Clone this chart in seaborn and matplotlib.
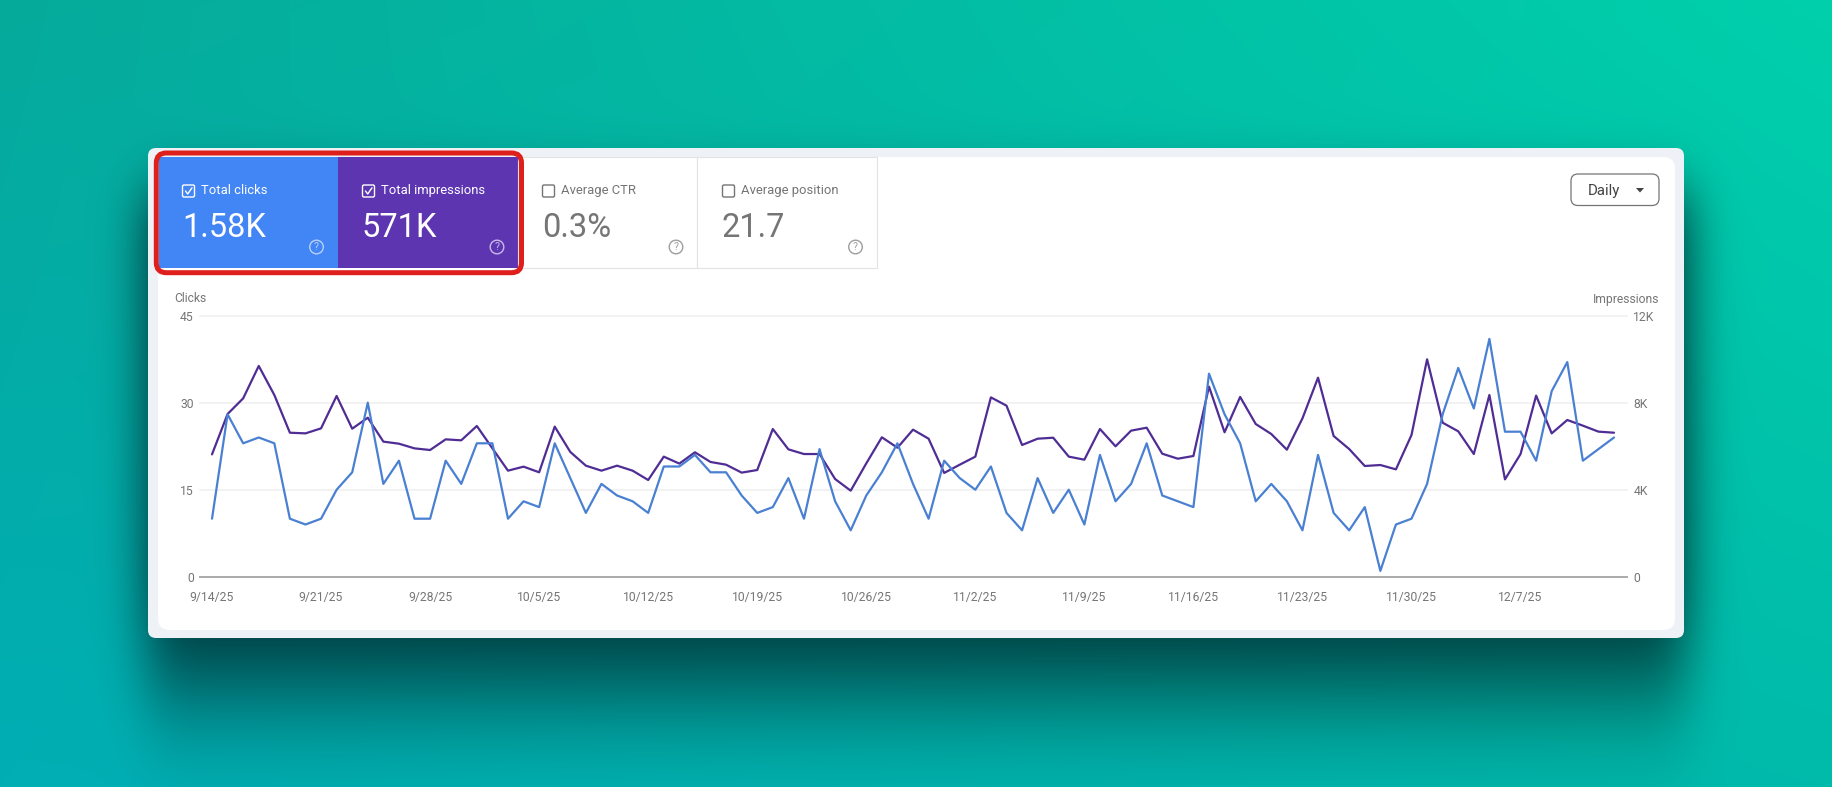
import math
import numpy as np
import pandas as pd
import seaborn as sns
import matplotlib.pyplot as plt
from matplotlib.patches import FancyBboxPatch, Rectangle, Circle, Polygon

W, H = 1833, 787

# values
clicks = [10, 28, 23, 24, 23, 10, 9, 10, 15, 18, 30, 16, 20, 10, 10, 20, 16, 23, 23, 10,
          13, 12, 23, 17, 11, 16, 14, 13, 11, 19, 19, 21, 18, 18, 14, 11, 12, 17, 10, 22,
          13, 8, 14, 18, 23, 16, 10, 20, 17, 15, 19, 11, 8, 17, 11, 15, 9, 21, 13, 16,
          23, 14, 13, 12, 35, 28, 23, 13, 16, 13, 8, 21, 11, 8, 12, 1, 9, 10, 16, 28,
          36, 29, 41, 25, 25, 20, 32, 37, 20, 22, 24]
impressions = [5625, 7480, 8200, 9690, 8355, 6620, 6590, 6820, 8310, 6805, 7310, 6210, 6115,
               5900, 5825, 6315, 6270, 6930, 5900, 4875, 5060, 4800, 6900, 5735, 5105, 4875,
               5105, 4875, 4445, 5520, 5200, 5720, 5275, 5150, 4785, 4905, 6790, 5855, 5640,
               5640, 4490, 3955, 5210, 6410, 5930, 6760, 6345, 4770, 5150, 5520, 8245, 7865,
               6055, 6345, 6390, 5520, 5380, 6790, 5995, 6715, 6850, 5655, 5425, 5550, 8740,
               6640, 8265, 7020, 6560, 5840, 7280, 9150, 6470, 5870, 5090, 5135, 4935, 6515,
               9995, 7080, 6685, 5640, 8355, 4475, 5640, 8325, 6590, 7205, 6945, 6670, 6620]
days = pd.date_range("2025-09-14", periods=len(clicks), freq="D")

date_ticks = pd.date_range("2025-09-14", "2025-12-07", freq="7D")
date_labels = ["9/14/25", "9/21/25", "9/28/25", "10/5/25", "10/12/25", "10/19/25", "10/26/25",
               "11/2/25", "11/9/25", "11/16/25", "11/23/25", "11/30/25", "12/7/25"]
click_ticks = [0, 15, 30, 45]
impr_ticks = [0, 4000, 8000, 12000]
impr_labels = ["0", "4K", "8K", "12K"]

tile_names = ["Total clicks", "Total impressions", "Average CTR", "Average position"]
tile_values = ["1.58K", "571K", "0.3%", "21.7"]

df = pd.DataFrame({"day": days, "clicks": clicks, "impressions": impressions})

sns.set_theme(style="white")
plt.rcParams["font.family"] = ["Roboto", "DejaVu Sans"]

fig = plt.figure(figsize=(W / 100, H / 100), dpi=100)

# page background, everything on it is in pixels
bg = fig.add_axes([0, 0, 1, 1])
xx, yy = np.meshgrid(np.linspace(0, 1, W), np.linspace(0, 1, H))
corners = np.array([[6, 170, 155], [0, 208, 172], [0, 174, 180], [0, 186, 170]], dtype=float)
grad = np.zeros((H, W, 3))
for c in range(3):
    grad[..., c] = (corners[0, c] * (1 - xx) * (1 - yy) + corners[1, c] * xx * (1 - yy)
                    + corners[2, c] * (1 - xx) * yy + corners[3, c] * xx * yy)

# card shadow
erf = np.vectorize(math.erf)
px = np.arange(W)
py = np.arange(H)
sx = 0.5 * (erf((px - 146) / (24 * 1.414)) - erf((px - 1687) / (24 * 1.414)))
sy = 0.5 * (erf((py - 190) / (30 * 1.414)) - erf((py - 682) / (62 * 1.414)))
shade = 0.9 * np.outer(sy, sx)[..., None]
grad = grad * (1 - shade) + np.array([0, 30, 35]) * shade

bg.imshow(grad / 255, extent=[0, W, H, 0], aspect="auto", interpolation="bilinear")
bg.set_xlim(0, W)
bg.set_ylim(H, 0)
bg.axis("off")

bg.add_patch(FancyBboxPatch((148, 148), 1536, 490, boxstyle="round,pad=0,rounding_size=8",
                            fc="#EEF2F7", ec="none"))
bg.add_patch(FancyBboxPatch((158, 157), 1517, 473, boxstyle="round,pad=0,rounding_size=12",
                            fc="white", ec="none"))

# metric tiles
tile_edges = [159, 338, 518.5, 697.5, 877]
tile_fill = ["#4285F4", "#5E35B1", "white", "white"]
label_x = [201, 381, 561, 741]
box_x = [182.5, 362.5, 542.5, 722.5]
for i in range(4):
    x0, x1 = tile_edges[i], tile_edges[i + 1]
    on = i < 2
    fg = "white" if on else "#757575"
    bg.add_patch(Rectangle((x0, 157), x1 - x0, 110.5, fc=tile_fill[i],
                           ec="#E3E3E3" if not on else "none", lw=0.8))
    bg.add_patch(FancyBboxPatch((box_x[i], 185), 12, 12, boxstyle="round,pad=0,rounding_size=1.5",
                                fc="none", ec=fg, lw=1.0))
    if on:
        bg.plot([box_x[i] + 3, box_x[i] + 5.2, box_x[i] + 9.5], [191, 194, 187.8], color="white", lw=1.0)
    bg.text(label_x[i], 190.5, tile_names[i], color=fg, fontsize=9.35, va="center", ha="left")
    bg.text(box_x[i] - 0.5, 228, tile_values[i], color=fg, fontsize=23.5, va="center", ha="left")
    hx = tile_edges[i + 1] - 21.5
    hc = "#B9D0FA" if i == 0 else ("#C9BAE8" if i == 1 else "#9E9E9E")
    bg.add_patch(Circle((hx, 247), 6.8, fc="none", ec=hc, lw=1.0))
    bg.text(hx, 247, "?", color=hc, fontsize=7.5, va="center", ha="center")

# red highlight round the first two tiles
bg.add_patch(FancyBboxPatch((156.3, 153), 365.2, 119.7, boxstyle="round,pad=0,rounding_size=10",
                            fc="none", ec="#DF1F1B", lw=3.6))

# Daily dropdown
bg.add_patch(FancyBboxPatch((1571, 174), 88, 31.5, boxstyle="round,pad=0,rounding_size=7",
                            fc="white", ec="#757575", lw=0.9))
bg.text(1587.5, 190.5, "Daily", color="#444444", fontsize=10.8, va="center", ha="left")
bg.add_patch(Polygon([[1636, 188], [1644, 188], [1640, 192.5]], fc="#444444", ec="none"))

bg.text(174, 299, "Clicks", color="#757575", fontsize=8.7, va="center", ha="left")
bg.text(1659.5, 299, "Impressions", color="#757575", fontsize=8.7, va="center", ha="right")

# the chart itself
ax = fig.add_axes([200 / W, 1 - 576.7 / H, 1427 / W, 261 / H])
ax2 = ax.twinx()

sns.lineplot(data=df, x="day", y="impressions", ax=ax2, color="#4F2D94", linewidth=1.6)
sns.lineplot(data=df, x="day", y="clicks", ax=ax, color="#4A80D2", linewidth=1.6)

ax.set_zorder(ax2.get_zorder() + 1)
ax.patch.set_visible(False)
ax2.patch.set_visible(False)

ax.set_xlim(days[0] - pd.Timedelta(hours=18.5), days[-1] + pd.Timedelta(hours=20))
ax.set_ylim(0, 45)
ax2.set_ylim(0, 12000)
ax.set_xticks(date_ticks)
ax.set_xticklabels(date_labels)
ax.set_yticks(click_ticks)
ax2.set_yticks(impr_ticks)
ax2.set_yticklabels(impr_labels)
ax.set_xlabel("")
ax.set_ylabel("")
ax2.set_ylabel("")

ax.tick_params(axis="x", length=0, pad=10, labelsize=8.7, labelcolor="#757575")
ax.tick_params(axis="y", length=0, pad=4.5, labelsize=8.7, labelcolor="#757575")
ax2.tick_params(axis="y", length=0, pad=4.5, labelsize=8.7, labelcolor="#757575")

ax.grid(False)
ax2.grid(False)
ax2.yaxis.grid(True, color="#F1F1F1", linewidth=1.3)
for line in ax2.get_ygridlines():
    line.set_clip_on(False)
for axis in (ax, ax2):
    for side in ("top", "left", "right", "bottom"):
        axis.spines[side].set_visible(False)
ax.spines["bottom"].set_visible(True)
ax.spines["bottom"].set_color("#ABABAB")
ax.spines["bottom"].set_linewidth(1.4)

fig.savefig("out.png", dpi=100)
